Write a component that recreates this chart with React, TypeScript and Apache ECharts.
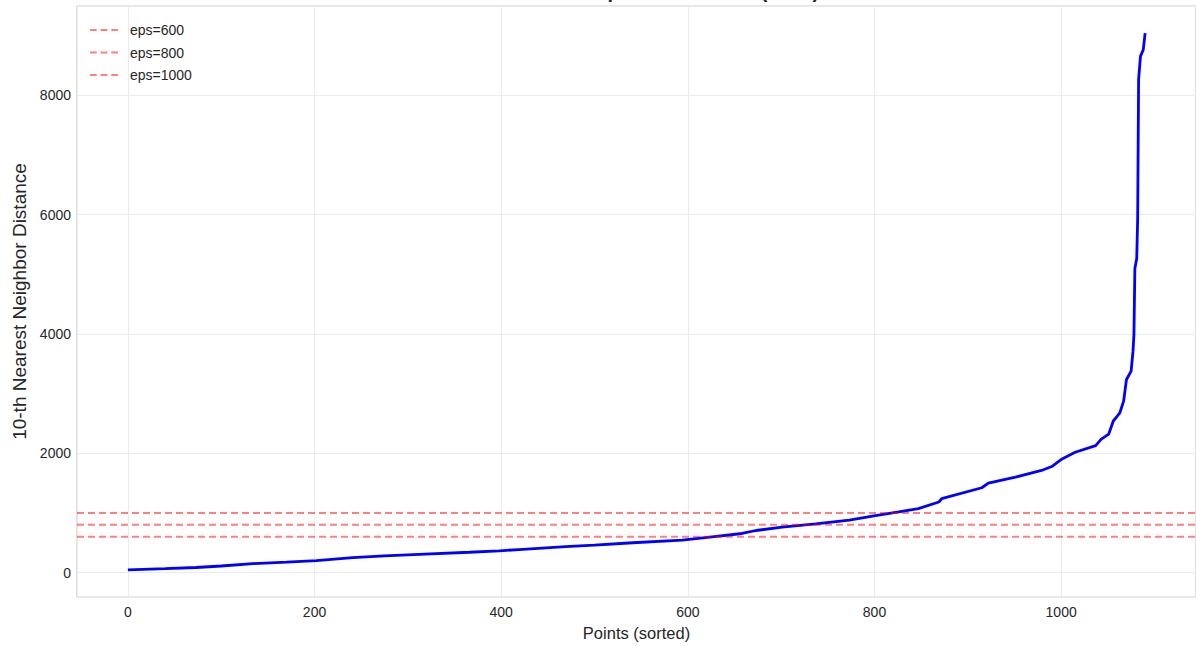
import React, { useEffect, useRef } from "react";
import * as echarts from "echarts";

// Sorted 10-th nearest neighbour distances: [point index, distance]
const kDistances: [number, number][] = [
  [0, 45], [40, 65], [73, 85], [100, 110], [134, 150], [170, 175], [202, 200],
  [241, 250], [275, 280], [312, 305], [366, 340], [398, 365], [419, 385],
  [469, 433], [500, 460], [541, 500], [594, 545], [626, 600], [658, 655],
  [673, 705], [701, 760], [737, 815], [773, 880], [801, 955], [826, 1017],
  [847, 1072], [869, 1183], [872, 1238], [915, 1422], [922, 1500], [951, 1600],
  [979, 1712], [990, 1778], [1001, 1905], [1015, 2017], [1037, 2128],
  [1043, 2238], [1051, 2322], [1056, 2545], [1059, 2600], [1063, 2683],
  [1067, 2878], [1070, 3238], [1075, 3378], [1077, 3712], [1078, 3988],
  [1079, 5100], [1081, 5267], [1082, 5933], [1083, 8267], [1085, 8655],
  [1088, 8767], [1090, 9045],
];

// Candidate eps thresholds
const epsValues = [600, 800, 1000];

const X_MIN = -54.5;
const X_MAX = 1144.5;
const Y_MIN = -410;
const Y_MAX = 9500;

const FONT = "'Liberation Sans', Arial, sans-serif";
const TEXT = "#262626";
const EPS_COLOR = "rgba(255,0,0,0.5)";

// Three-dash legend handle
const DASH_ICON = "path://M0,0h7v2h-7z M11,0h7v2h-7z M22,0h7v2h-7z";

export default function App() {
  const ref = useRef<HTMLDivElement>(null);

  useEffect(() => {
    if (!ref.current) return;
    const chart = echarts.init(ref.current, undefined, { renderer: "svg" });

    const epsSeries = epsValues.map((v) => ({
      name: `eps=${v}`,
      type: "line" as const,
      data: [[X_MIN, v], [X_MAX, v]],
      symbol: "none",
      lineStyle: { color: EPS_COLOR, width: 2, type: [7, 4] },
      itemStyle: { color: EPS_COLOR },
      z: 3,
    }));

    chart.setOption({
      animation: false,
      title: {
        text: "K-Distance Graph for DBSCAN (k=10)",
        left: 636,
        top: -24,
        textAlign: "center",
        textStyle: { fontFamily: FONT, fontSize: 20, fontWeight: "bold", color: TEXT },
      },
      grid: {
        left: 77,
        right: 0,
        top: 6,
        bottom: 46,
        show: true,
        borderColor: "#cccccc",
        borderWidth: 1.25,
        containLabel: false,
      },
      legend: {
        data: epsValues.map((v) => ({ name: `eps=${v}`, icon: DASH_ICON })),
        orient: "vertical",
        left: 85,
        top: 17,
        itemWidth: 28,
        itemHeight: 2,
        itemGap: 6.5,
        itemStyle: { color: EPS_COLOR },
        textStyle: { fontFamily: FONT, fontSize: 14, color: TEXT, padding: [0, 0, 0, 7], lineHeight: 16 },
      },
      xAxis: {
        type: "value",
        min: X_MIN,
        max: X_MAX,
        splitNumber: 6,
        name: "Points (sorted)",
        nameLocation: "middle",
        nameGap: 27,
        nameTextStyle: { fontFamily: FONT, fontSize: 16.5, color: TEXT },
        axisLine: { show: false },
        axisTick: { show: false },
        axisLabel: {
          showMinLabel: false,
          showMaxLabel: false,
          fontFamily: FONT,
          fontSize: 14,
          color: TEXT,
          margin: 8,
          formatter: (v: number) => String(v),
        },
        splitLine: { show: true, lineStyle: { color: "#ebebeb", width: 1 } },
      },
      yAxis: {
        type: "value",
        min: Y_MIN,
        max: Y_MAX,
        splitNumber: 5,
        name: "10-th Nearest Neighbor Distance",
        nameLocation: "middle",
        nameGap: 39,
        nameTextStyle: { fontFamily: FONT, fontSize: 19, color: TEXT },
        axisLine: { show: false },
        axisTick: { show: false },
        axisLabel: {
          showMinLabel: false,
          showMaxLabel: false,
          fontFamily: FONT,
          fontSize: 14,
          color: TEXT,
          margin: 6,
          formatter: (v: number) => String(v),
        },
        splitLine: { show: true, lineStyle: { color: "#ebebeb", width: 1 } },
      },
      series: [
        {
          name: "k-distance",
          type: "line",
          data: kDistances,
          symbol: "none",
          lineStyle: { color: "#0000ff", width: 2.8 },
          itemStyle: { color: "#0000ff" },
          z: 2,
        },
        ...epsSeries,
      ],
    });

    return () => chart.dispose();
  }, []);

  return (
    <div
      ref={ref}
      style={{ position: "fixed", left: 0, top: 0, width: 1196, height: 646, background: "#fff" }}
    />
  );
}
